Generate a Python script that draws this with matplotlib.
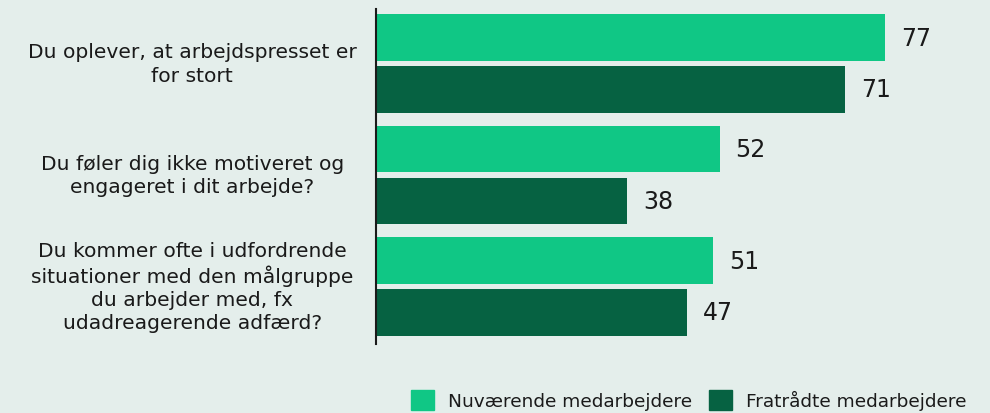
import matplotlib.pyplot as plt
from matplotlib.patches import Patch
import numpy as np

categories = [
    "Du oplever, at arbejdspresset er\nfor stort",
    "Du føler dig ikke motiveret og\nengageret i dit arbejde?",
    "Du kommer ofte i udfordrende\nsituationer med den målgruppe\ndu arbejder med, fx\nudadreagerende adfærd?",
]
nuvaerende = [77, 52, 51]
fratraadte = [71, 38, 47]
series_names = ["Nuværende medarbejdere", "Fratrådte medarbejdere"]

bg = "#E4EEEB"
light = "#10C785"
dark = "#066242"
txt = "#1a1a1a"

plt.rcParams['font.family'] = ['DejaVu Sans']

fig = plt.figure(figsize=(9.9, 4.14), dpi=100, facecolor=bg)
ax = fig.add_axes([376 / 990, 1 - 345 / 414, 1 - 376 / 990, 335 / 414])
ax.set_facecolor(bg)

y = np.arange(len(categories))
h = 0.42
off = 0.233
b1 = ax.barh(y - off, nuvaerende, h, color=light)
b2 = ax.barh(y + off, fratraadte, h, color=dark)

for bars, vals in ((b1, nuvaerende), (b2, fratraadte)):
    for rect, v in zip(bars, vals):
        ax.text(rect.get_width() + 2.4, rect.get_y() + rect.get_height() / 2, str(v),
                va="center", ha="left", fontsize=17, color=txt)

for yi, lab in zip(y, categories):
    ax.text(-27.8, yi, lab, ha="center", va="center", multialignment="center",
            fontsize=14.6, color=txt, linespacing=1.28)

ax.set_xlim(0, 92.9)
ax.set_ylim(2.516, -0.489)
ax.set_xticks([])
ax.set_yticks([])
for s in ["top", "right", "bottom"]:
    ax.spines[s].set_visible(False)
ax.spines["left"].set_color(txt)
ax.spines["left"].set_linewidth(1.5)

handles = [Patch(color=light), Patch(color=dark)]
fig.legend(handles, series_names, loc="lower right", bbox_to_anchor=(0.993, -0.033),
           ncol=2, frameon=False, fontsize=13.3, handlelength=1.25, handleheight=1.25,
           handletextpad=0.75, columnspacing=0.9, labelcolor=txt)

fig.savefig("out.png", dpi=100, facecolor=bg)
